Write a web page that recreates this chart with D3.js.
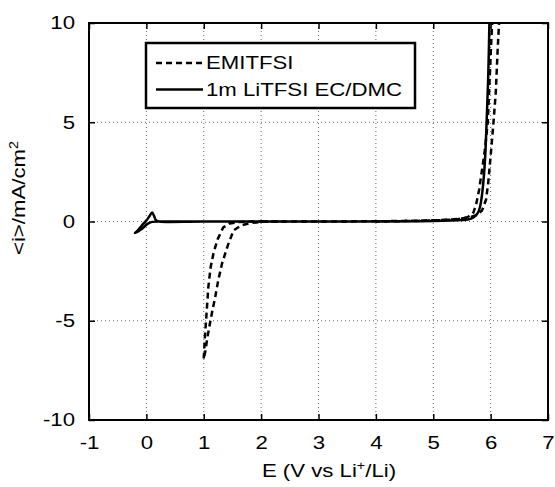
<!DOCTYPE html>
<html>
<head>
<meta charset="utf-8">
<script src="https://cdn.jsdelivr.net/npm/d3@7"></script>
<style>
  body { margin: 0; background: #fff; }
  text { font-family: "Liberation Sans", Arial, sans-serif; }
</style>
</head>
<body>
<div class="canvas"></div>
<script>
// tick values
const xTicks = [-1, 0, 1, 2, 3, 4, 5, 6, 7];
const yTicks = [-10, -5, 0, 5, 10];

// EMITFSI (dashed) - cathodic sweep out and back
const emiCathE = [2.3, 2.0, 1.8, 1.65, 1.52, 1.42, 1.32, 1.25, 1.2, 1.15, 1.11, 1.06, 1.03, 1.01, 1.0];
const emiCathI = [0, -0.02, -0.08, -0.2, -0.45, -1.2, -2.1, -3.0, -3.8, -4.5, -5.1, -5.9, -6.5, -6.8, -6.9];
const emiBackE = [1.0, 1.02, 1.04, 1.08, 1.12, 1.17, 1.24, 1.34, 1.45, 1.6, 1.8, 2.1];
const emiBackI = [-6.9, -5.8, -5.0, -3.3, -2.3, -1.6, -0.9, -0.3, -0.1, -0.03, 0, 0];

// EMITFSI (dashed) - anodic sweep out and back
const emiAnodE = [2.0, 3.0, 4.0, 4.5, 5.0, 5.3, 5.5, 5.65, 5.75, 5.85, 5.92, 5.96, 6.0, 6.05, 6.09, 6.12, 6.15];
const emiAnodI = [0, 0, 0.01, 0.03, 0.06, 0.1, 0.15, 0.22, 0.32, 0.55, 1.1, 2.0, 3.3, 5.0, 6.5, 8.5, 10.2];
const emiRetE = [6.03, 6.01, 5.98, 5.95, 5.9, 5.85, 5.8, 5.75, 5.7, 5.6, 5.4, 5.0, 4.5, 4.0];
const emiRetI = [10.2, 9.0, 7.0, 5.0, 3.6, 2.6, 1.6, 0.9, 0.45, 0.22, 0.1, 0.05, 0.02, 0];

// 1m LiTFSI EC/DMC (solid)
const liE = [3.0, 1.0, 0.3, 0.1, 0.02, -0.05, -0.12, -0.2, -0.15, -0.08, 0.0, 0.05, 0.1, 0.13, 0.17, 0.22, 1.0, 3.0, 5.0, 5.5, 5.6, 5.7, 5.78, 5.82, 5.86, 5.9, 5.93, 5.96, 5.98];
const liI = [0, 0, 0, -0.02, -0.12, -0.3, -0.45, -0.58, -0.45, -0.2, 0.05, 0.25, 0.45, 0.3, 0.05, 0, 0, 0, 0.02, 0.07, 0.1, 0.2, 0.45, 0.8, 1.6, 3.0, 5.0, 7.5, 10.2];

const legendLabels = ['EMITFSI', '1m LiTFSI EC/DMC'];

const width = 555, height = 487;
const margin = {top: 23, right: 7, bottom: 67, left: 89};
const graphWidth = width - margin.left - margin.right;
const graphHeight = height - margin.top - margin.bottom;

// the source figure has its lettering stretched sideways
const fontSize = 18.5;
const stretch = 1.2;
const widen = sel => sel.each(function() {
  const t = d3.select(this);
  const tx = +t.attr('x') || 0;
  t.attr('transform', `translate(${tx},0) scale(${stretch},1) translate(${-tx},0)`);
});

const svg = d3.select('.canvas')
  .append('svg')
    .attr('width', width)
    .attr('height', height);

const graph = svg.append('g')
  .attr('transform', `translate(${margin.left}, ${margin.top})`);

const x = d3.scaleLinear().domain([-1, 7]).range([0, graphWidth]);
const y = d3.scaleLinear().domain([-10, 10]).range([graphHeight, 0]);

// clip so curves stop at the frame
graph.append('clipPath').attr('id', 'clip')
  .append('rect').attr('width', graphWidth).attr('height', graphHeight);

// grid
graph.append('g')
  .selectAll('line')
  .data(xTicks.slice(1, -1))
  .join('line')
    .attr('x1', d => x(d)).attr('x2', d => x(d))
    .attr('y1', 0).attr('y2', graphHeight)
    .attr('stroke', '#666')
    .attr('stroke-width', 1)
    .attr('stroke-dasharray', '1,3');

graph.append('g')
  .selectAll('line')
  .data(yTicks.slice(1, -1))
  .join('line')
    .attr('y1', d => y(d)).attr('y2', d => y(d))
    .attr('x1', 0).attr('x2', graphWidth)
    .attr('stroke', '#666')
    .attr('stroke-width', 1)
    .attr('stroke-dasharray', '1,3');

// axes (inward ticks)
const plain = d => String(d);
const xAxis = d3.axisBottom(x).tickValues(xTicks).tickSizeInner(-6).tickSizeOuter(0).tickPadding(16).tickFormat(plain);
const yAxis = d3.axisLeft(y).tickValues(yTicks).tickSizeInner(-6).tickSizeOuter(0).tickPadding(14).tickFormat(plain);
const xTop = d3.axisTop(x).tickValues(xTicks).tickSizeInner(-6).tickSizeOuter(0).tickFormat('');
const yRight = d3.axisRight(y).tickValues(yTicks).tickSizeInner(-6).tickSizeOuter(0).tickFormat('');

const styleAxis = g => {
  g.select('.domain').remove();
  g.selectAll('line').attr('stroke', '#000').attr('stroke-width', 1.5);
  g.selectAll('text').attr('font-size', fontSize).attr('fill', '#000')
    .attr('font-family', '"Liberation Sans", Arial, sans-serif')
    .call(widen);
};

graph.append('g').attr('transform', `translate(0, ${graphHeight})`).call(xAxis).call(styleAxis);
graph.append('g').call(yAxis).call(styleAxis);
graph.append('g').call(xTop).call(styleAxis);
graph.append('g').attr('transform', `translate(${graphWidth}, 0)`).call(yRight).call(styleAxis);

// curves
const line = d3.line().x(d => x(d[0])).y(d => y(d[1]));
const pair = (es, is) => es.map((e, k) => [e, is[k]]);

const curves = graph.append('g').attr('clip-path', 'url(#clip)');

[[emiCathE, emiCathI], [emiBackE, emiBackI], [emiAnodE, emiAnodI], [emiRetE, emiRetI]].forEach(([es, is]) => {
  curves.append('path')
    .attr('d', line(pair(es, is)))
    .attr('fill', 'none')
    .attr('stroke', '#000')
    .attr('stroke-width', 2.5)
    .attr('stroke-dasharray', '6,4');
});

curves.append('path')
  .attr('d', d3.line().curve(d3.curveCatmullRom).x(d => x(d[0])).y(d => y(d[1]))(pair(liE, liI)))
  .attr('fill', 'none')
  .attr('stroke', '#000')
  .attr('stroke-width', 2.5);

// frame
graph.append('rect')
  .attr('width', graphWidth)
  .attr('height', graphHeight)
  .attr('fill', 'none')
  .attr('stroke', '#000')
  .attr('stroke-width', 2);

// legend
const legend = svg.append('g');
legend.append('rect')
  .attr('x', 146).attr('y', 43)
  .attr('width', 269).attr('height', 65)
  .attr('fill', '#fff')
  .attr('stroke', '#000')
  .attr('stroke-width', 2.5);

legendLabels.forEach((label, k) => {
  const ly = 63 + k * 26.5;
  legend.append('line')
    .attr('x1', 156).attr('x2', 203)
    .attr('y1', ly).attr('y2', ly)
    .attr('stroke', '#000')
    .attr('stroke-width', 2.5)
    .attr('stroke-dasharray', k === 0 ? '6,4' : null);
  legend.append('text')
    .attr('x', 206).attr('y', ly + 6.5)
    .attr('font-size', fontSize)
    .text(label)
    .call(widen);
});

// axis titles
const xTitle = svg.append('text')
  .attr('x', 329).attr('y', 477)
  .attr('text-anchor', 'middle')
  .attr('font-size', fontSize)
  .text('E (V vs Li')
  .call(widen);
xTitle.append('tspan').attr('font-size', 12).attr('dy', -7).text('+');
xTitle.append('tspan').attr('dy', 7).text('/Li)');

const yTitle = svg.append('text')
  .attr('transform', `translate(25, 198) rotate(-90) scale(${stretch},1)`)
  .attr('text-anchor', 'middle')
  .attr('font-size', fontSize)
  .text('<i>/mA/cm');
yTitle.append('tspan').attr('font-size', 12).attr('dy', -7).text('2');
</script>
</body>
</html>
